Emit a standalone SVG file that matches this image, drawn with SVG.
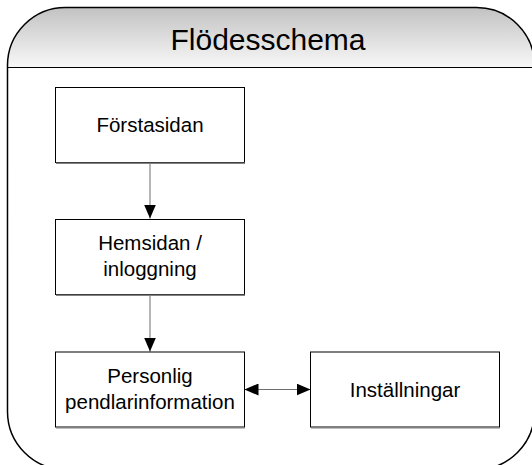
<svg xmlns="http://www.w3.org/2000/svg" width="532" height="465" viewBox="0 0 532 465">
  <defs>
    <linearGradient id="hdr" gradientUnits="userSpaceOnUse" x1="0" y1="7.5" x2="0" y2="67.5">
      <stop offset="0" stop-color="#c2c2c2"/>
      <stop offset="1" stop-color="#f8f8f8"/>
    </linearGradient>
    <clipPath id="hdrClip">
      <rect x="0" y="0" width="532" height="67.5"/>
    </clipPath>
    <marker id="arr" viewBox="0 0 14 12" refX="14" refY="6" markerWidth="14" markerHeight="12" markerUnits="userSpaceOnUse" orient="auto-start-reverse">
      <path d="M0,0 L14,6 L0,12 Z" fill="#000"/>
    </marker>
    <style>
      .box { fill: #fff; stroke: #000; stroke-width: 1; }
      .shadow { stroke: #808080; stroke-width: 1.5; fill: none; }
      .lbl { font-family: "Liberation Sans", Arial, sans-serif; font-size: 20.5px; fill: #000; text-anchor: middle; }
      .title { font-family: "Liberation Sans", Arial, sans-serif; font-size: 30px; fill: #000; text-anchor: middle; }
      .conn { stroke: #6e6e6e; stroke-width: 1; fill: none; }
    </style>
  </defs>

  <g id="frame">
    <rect x="7.5" y="7.5" width="527" height="462" rx="58" ry="58" fill="#fff"/>
    <rect x="7.5" y="7.5" width="527" height="462" rx="58" ry="58" fill="url(#hdr)" clip-path="url(#hdrClip)"/>
    <line x1="7.5" y1="67.5" x2="532" y2="67.5" stroke="#000" stroke-width="1.2"/>
    <rect x="7.5" y="7.5" width="527" height="462" rx="58" ry="58" fill="none" stroke="#000" stroke-width="1.5"/>
    <text class="title" x="268" y="50">Flödesschema</text>
  </g>

  <g id="connectors">
    <line class="conn" x1="150" y1="162.5" x2="150" y2="218.5" marker-end="url(#arr)"/>
    <line class="conn" x1="150" y1="294.5" x2="150" y2="351.5" marker-end="url(#arr)"/>
    <line class="conn" x1="244.5" y1="389.5" x2="310.5" y2="389.5" marker-start="url(#arr)" marker-end="url(#arr)"/>
  </g>

  <g id="forstasidan">
    <rect class="box" x="55.5" y="87.5" width="189" height="75"/>
    <line class="shadow" x1="56" y1="163.2" x2="245" y2="163.2"/>
    <text class="lbl" x="150" y="131.5">Förstasidan</text>
  </g>

  <g id="hemsidan">
    <rect class="box" x="55.5" y="219.5" width="189" height="75"/>
    <line class="shadow" x1="56" y1="295.2" x2="245" y2="295.2"/>
    <text class="lbl" x="150" y="249.5">Hemsidan /</text>
    <text class="lbl" x="150" y="275.5">inloggning</text>
  </g>

  <g id="personlig">
    <rect class="box" x="55.5" y="352" width="189" height="75"/>
    <line class="shadow" x1="56" y1="427.7" x2="245" y2="427.7"/>
    <text class="lbl" x="150" y="382.5">Personlig</text>
    <text class="lbl" x="150" y="408.5">pendlarinformation</text>
  </g>

  <g id="installningar">
    <rect class="box" x="310.5" y="352" width="189" height="75"/>
    <line class="shadow" x1="311" y1="427.7" x2="500" y2="427.7"/>
    <text class="lbl" x="405" y="397">Inställningar</text>
  </g>
</svg>
